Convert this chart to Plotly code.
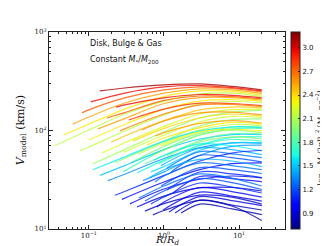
import numpy as np
import plotly.graph_objects as go

# ---- data: colour value (log surface density) of each curve and its points (R/Rd, Vmodel km/s)
A_SIGMA = [3.1, 2.95, 2.75, 2.55, 2.35, 2.15]
A_R = [[0.14, 0.3, 1, 3, 8, 20], [0.106, 0.3, 1, 3, 8, 20], [0.081, 0.1, 0.3, 1, 3, 8, 20],
       [0.061, 0.1, 0.3, 1, 3, 8, 20], [0.046, 0.1, 0.3, 1, 3, 8, 20], [0.035, 0.1, 0.3, 1, 3, 8, 20]]
A_V = [[252, 270, 290, 297, 280, 258], [195, 240, 277, 286, 273, 252], [151, 162, 214, 258, 277, 267, 246],
       [116, 137, 190, 240, 264, 258, 238], [90, 116, 165, 221, 252, 249, 229], [70, 101, 147, 199, 235, 240, 221]]

B_SIGMA = [2.95, 2.75, 2.55, 2.35, 2.15]
B_R = [[0.229, 0.3, 1, 3, 8, 20], [0.174, 0.3, 1, 3, 8, 20], [0.132, 0.3, 1, 3, 8, 20],
       [0.1, 0.3, 1, 3, 8, 20], [0.076, 0.1, 0.3, 1, 3, 8, 20]]
B_V = [[173, 182, 214, 232, 227, 214], [134, 152, 202, 224, 221, 209], [104, 132, 188, 216, 216, 204],
       [80, 115, 165, 199, 206, 199], [62, 68, 99, 144, 186, 197, 192]]

C_SIGMA = [2.85, 2.65, 2.45, 2.25, 2.05]
C_R = [[0.341, 1, 3, 8, 20], [0.259, 0.3, 1, 3, 8, 20], [0.197, 0.3, 1, 3, 8, 20],
       [0.149, 0.3, 1, 3, 8, 20], [0.113, 0.3, 1, 3, 8, 20]]
C_V = [[128, 165, 190, 188, 179], [99, 104, 147, 182, 184, 175], [76, 88, 126, 162, 173, 171],
       [59, 75, 110, 147, 163, 165], [46, 64, 97, 134, 154, 160]]

D_SIGMA = [2.6, 2.4, 2.2, 2.0]
D_R = [[0.509, 1, 3, 8, 20], [0.386, 1, 3, 8, 20], [0.293, 1, 3, 8, 20], [0.222, 0.3, 1, 3, 8, 20]]
D_V = [[101, 125, 151, 154, 144], [78, 105, 134, 147, 140], [60, 90, 122, 139, 136],
       [47, 52, 78, 111, 129, 131]]

E_SIGMA = [2.55, 2.35, 2.15, 1.95, 1.75]
E_R = [[0.759, 1, 3, 8, 20], [0.593, 1, 3, 8, 20], [0.464, 1, 3, 8, 20], [0.363, 1, 3, 8, 20],
       [0.284, 1, 3, 8, 20]]
E_V = [[88, 95, 118, 126, 119], [71, 84, 107, 121, 116], [58, 75, 101, 115, 112], [47, 69, 94, 108, 108],
       [38, 64, 90, 104, 105]]

CYAN_SIGMA = [1.6, 1.5, 1.35]
CYAN_R = [[0.113, 0.3, 1, 3, 8, 20], [0.14, 0.3, 1, 3, 8, 20], [0.179, 0.3, 1, 3, 8, 20]]
CYAN_V = [[40, 54, 78, 99, 109, 107], [35, 44, 64, 82, 91, 91], [31, 36, 52, 67, 75, 74.6]]

F_SIGMA = [2.3, 2.05, 1.85, 1.65]
F_R = [[0.912, 3, 8, 20], [0.713, 1, 3, 8, 20], [0.558, 1, 3, 8, 20], [0.437, 1, 3, 8, 20]]
F_V = [[70, 97, 103, 99], [56, 63, 90, 101, 95], [46, 55, 79, 93, 92], [37, 50, 71, 85, 86]]

G_SIGMA = [2.0, 1.75, 1.55, 1.4]
G_R = [[1.096, 3, 8, 20], [0.858, 3, 8, 20], [0.671, 1, 3, 8, 20], [0.525, 1, 3, 8, 20]]
G_V = [[55, 76, 86, 82], [46, 70, 81, 78], [38, 43, 63, 75, 75], [31, 38, 56, 69, 71]]

H_SIGMA = [1.6, 1.45, 1.3, 1.2]
H_R = [[0.736, 1, 3, 8, 20], [0.912, 3, 8, 20], [1.063, 3, 8, 20], [1.24, 3, 8, 20]]
H_V = [[50, 56, 73, 70, 62], [44, 66, 64, 57], [41, 61, 58, 53], [38, 56, 53, 48]]

BLUE_SIGMA = [1.1, 1.0, 0.95, 0.9, 0.85, 0.8]
BLUE_R = [[0.222, 0.3, 1, 3, 8, 20], [0.275, 1, 3, 8, 20], [0.352, 1, 3, 8, 20],
          [0.437, 1, 3, 8, 20], [0.558, 1, 3, 8, 20], [0.713, 1, 3, 8, 20]]
BLUE_V = [[22, 24, 35, 49, 59, 63], [20, 30, 40, 46, 47], [18, 25.5, 32, 34.5, 33],
          [16.7, 21.6, 26.1, 26.4, 24.3], [15.2, 18.1, 22.1, 21.1, 17.9], [13.9, 15.4, 19.5, 17.1, 12.2]]

I_SIGMA = [1.45, 1.3, 1.2, 1.1, 1.0]
I_R = [[0.631, 1, 3, 8, 20], [0.759, 1, 3, 8, 20], [0.912, 3, 8, 20], [1.096, 3, 8, 20], [1.318, 3, 8, 20]]
I_V = [[33, 40, 51, 49, 43], [30, 34.5, 47, 44, 40], [27.3, 42, 40, 36.6], [24.9, 37.9, 36.2, 33.3],
       [23.2, 34.1, 32.5, 30.3]]

J_SIGMA = [1.3, 1.2, 1.1, 1.0, 0.95]
J_R = [[0.464, 1, 3, 8, 20], [0.558, 1, 3, 8, 20], [0.671, 1, 3, 8, 20], [0.807, 1, 3, 8, 20], [0.97, 3, 8, 20]]
J_V = [[20.6, 27.3, 36.2, 32.9, 27.3], [19.2, 24.3, 32.5, 29.6, 25.2], [17.9, 21.1, 29.3, 26.7, 23.2],
       [16.7, 18.8, 26.4, 24.0, 21.1], [15.6, 23.7, 21.6, 19.2]]

K_SIGMA = [0.9, 0.85, 0.8]
K_R = [[1.166, 3, 8, 20], [1.402, 3, 8, 20], [1.685, 3, 8, 20]]
K_V = [[14.9, 21.3, 19.4, 17.3], [14.5, 19.7, 17.5, 15.6], [14.5, 17.9, 16.0, 14.0]]

CBAR_TICKS = [0.9, 1.2, 1.5, 1.8, 2.1, 2.4, 2.7, 3.0]
X_TICKS = [0.1, 1, 10]
X_TICK_TEXT = ["10<sup>−1</sup>", "10<sup>0</sup>", "10<sup>1</sup>"]
Y_TICKS = [10, 100, 1000]
Y_TICK_TEXT = ["10<sup>1</sup>", "10<sup>2</sup>", "10<sup>3</sup>"]
CMIN, CMAX = 0.7, 3.2

GROUPS = [(A_SIGMA, A_R, A_V), (B_SIGMA, B_R, B_V), (C_SIGMA, C_R, C_V), (D_SIGMA, D_R, D_V),
          (E_SIGMA, E_R, E_V), (CYAN_SIGMA, CYAN_R, CYAN_V), (F_SIGMA, F_R, F_V), (G_SIGMA, G_R, G_V),
          (H_SIGMA, H_R, H_V), (BLUE_SIGMA, BLUE_R, BLUE_V), (I_SIGMA, I_R, I_V), (J_SIGMA, J_R, J_V),
          (K_SIGMA, K_R, K_V)]

# matplotlib 'jet' colormap
_JR = ([0, 0.35, 0.66, 0.89, 1], [0, 0, 1, 1, 0.5])
_JG = ([0, 0.125, 0.375, 0.64, 0.91, 1], [0, 0, 1, 1, 0, 0])
_JB = ([0, 0.11, 0.34, 0.65, 1], [0.5, 1, 1, 0, 0])


def jet(t):
    t = min(max(t, 0), 1)
    r = np.interp(t, *_JR)
    g = np.interp(t, *_JG)
    b = np.interp(t, *_JB)
    return "rgb(%d,%d,%d)" % (round(r * 255), round(g * 255), round(b * 255))


JET_SCALE = [[i / 40, jet(i / 40)] for i in range(41)]

fig = go.Figure()
for sig, rr, vv in GROUPS:
    for s, r, v in zip(sig, rr, vv):
        fig.add_trace(go.Scatter(
            x=r, y=v, mode="lines",
            line=dict(color=jet((s - CMIN) / (CMAX - CMIN)), width=1.2, shape="spline", smoothing=0.9),
            opacity=0.8, hoverinfo="skip", showlegend=False))

# colour bar
cbar = dict(x=1.0254, xanchor="left", xpad=0, y=0.5, yanchor="middle", ypad=0,
            len=1, lenmode="fraction", thickness=9, outlinewidth=1, outlinecolor="#222",
            tickvals=CBAR_TICKS, ticktext=["%.1f" % t for t in CBAR_TICKS],
            ticks="inside", ticklen=2, tickcolor="#222",
            tickfont=dict(size=7, family="DejaVu Sans", color="#111"))
fig.add_trace(go.Scatter(
    x=[None], y=[None], mode="markers", showlegend=False, hoverinfo="skip",
    marker=dict(color=[1.5], cmin=CMIN, cmax=CMAX, colorscale=JET_SCALE, showscale=True, colorbar=cbar)))

x_minor = [k * 10.0 ** e for e in (-2, -1, 0, 1) for k in range(2, 10) if 0.03 <= k * 10.0 ** e <= 41]
y_minor = [k * 10.0 ** e for e in (1, 2) for k in range(2, 10)]

axis_common = dict(showline=True, linecolor="#222", linewidth=1, mirror="allticks", ticks="inside",
                   ticklen=4, tickcolor="#222", showgrid=False, zeroline=False,
                   tickfont=dict(size=7, family="DejaVu Serif", color="#111"))

fig.update_layout(
    width=328, height=246,
    margin=dict(l=41, r=51, t=24, b=25, autoexpand=False),
    paper_bgcolor="white", plot_bgcolor="white",
    xaxis=dict(type="log", range=[-1.53, 1.61], tickvals=X_TICKS, ticktext=X_TICK_TEXT,
               minor=dict(tickvals=x_minor, ticks="inside", ticklen=2, tickcolor="#222"),
               **axis_common),
    yaxis=dict(type="log", range=[1, 3], tickvals=Y_TICKS, ticktext=Y_TICK_TEXT,
               minor=dict(tickvals=y_minor, ticks="inside", ticklen=2, tickcolor="#222"),
               **axis_common),
    annotations=[
        dict(text="Disk, Bulge &amp; Gas", x=0.165, y=0.944, xref="paper", yref="paper",
             xanchor="left", yanchor="middle", showarrow=False,
             font=dict(size=8, family="DejaVu Sans", color="#111")),
        dict(text="Constant <i>M</i><sub>*</sub>/<i>M</i><sub>200</sub>", x=0.165, y=0.858,
             xref="paper", yref="paper", xanchor="left", yanchor="middle", showarrow=False,
             font=dict(size=8, family="DejaVu Sans", color="#111")),
        dict(text="<i>V</i><sub>model</sub> (km/s)", x=-0.12, y=0.5, xref="paper", yref="paper",
             xanchor="center", yanchor="middle", textangle=-90, showarrow=False,
             font=dict(size=11, family="DejaVu Serif", color="#111")),
        dict(text="<i>R</i>/<i>R</i><sub><i>d</i></sub>", x=0.5, y=-0.058, xref="paper", yref="paper",
             xanchor="center", yanchor="middle", showarrow=False,
             font=dict(size=10, family="DejaVu Serif", color="#111")),
        dict(text="log<sub>10</sub> M<sub>*</sub>/2πR<sub>d</sub><sup>2</sup> [M<sub>⊙</sub> pc<sup>−2</sup>]",
             x=1.15, y=0.462, xref="paper", yref="paper", xanchor="center", yanchor="middle",
             textangle=-90, showarrow=False,
             font=dict(size=7.5, family="DejaVu Serif", color="#111")),
    ],
)

fig.write_html("out.html")
